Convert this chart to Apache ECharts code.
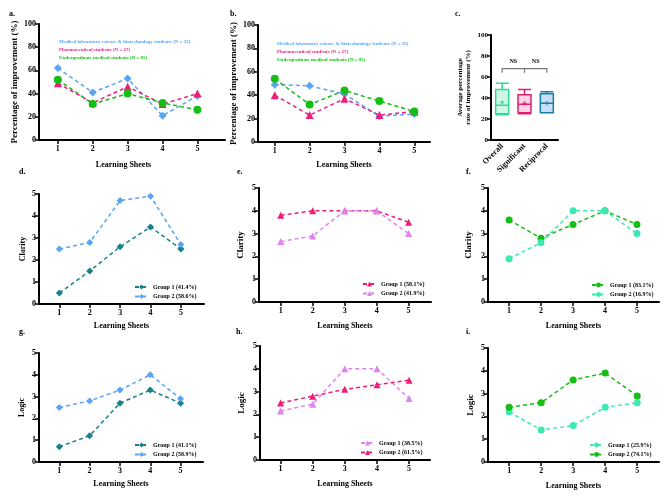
<!DOCTYPE html>
<html>
<head>
<meta charset="utf-8">
<script src="https://cdn.jsdelivr.net/npm/echarts@6/dist/echarts.min.js"></script>
<style>
html,body{margin:0;padding:0;background:#fff;}
#chart{width:669px;height:498px;}
</style>
</head>
<body>
<div id="chart"></div>
<script>
// ---------- DATA ----------
const sheets = [1, 2, 3, 4, 5];
const seriesNamesAB = [
  'Medical laboratory science & biotechnology students (N = 32)',
  'Pharmaceutical students (N = 27)',
  'Undergraduate medical students (N = 85)'
];
const aMedLab    = [62, 41, 53, 21, 38];
const aPharm     = [49, 32, 46, 31, 40];
const aUndergrad = [52, 31, 40, 32, 26];
const bMedLab    = [49, 48, 41, 22, 24];
const bPharm     = [40, 23, 37, 23, 26];
const bUndergrad = [54, 32, 44, 35, 26];

const cCategories = ['Overall', 'Significant', 'Reciprocal'];
// [min, Q1, median, Q3, max]
const cBox  = [[24, 25, 33, 48, 54], [25, 26, 34, 43, 48], [26, 26, 35, 44, 46]];
const cMean = [36, 35, 35];
const cBracketLevel = 68;
const cBracketDrop = 64;
const cBracketText = 'NS';

const dNames = ['Group 1 (41.4%)', 'Group 2 (58.6%)'];
const dG1 = [0.5, 1.5, 2.6, 3.5, 2.5];
const dG2 = [2.5, 2.8, 4.7, 4.9, 2.7];
const eNames = ['Group 1 (58.1%)', 'Group 2 (41.9%)'];
const eG1 = [3.8, 4.0, 4.0, 4.0, 3.5];
const eG2 = [2.65, 2.9, 4.0, 4.0, 3.0];
const fNames = ['Group 1 (83.1%)', 'Group 2 (16.9%)'];
const fG1 = [3.6, 2.8, 3.4, 4.0, 3.4];
const fG2 = [1.9, 2.6, 4.0, 4.0, 3.0];
const gNames = ['Group 1 (41.1%)', 'Group 2 (58.9%)'];
const gG1 = [0.7, 1.2, 2.7, 3.3, 2.7];
const gG2 = [2.5, 2.8, 3.3, 4.0, 2.9];
const hNames = ['Group 1 (38.5%)', 'Group 2 (61.5%)'];
const hG1 = [2.15, 2.45, 4.0, 4.0, 2.7];
const hG2 = [2.5, 2.8, 3.1, 3.3, 3.5];
const iNames = ['Group 1 (25.9%)', 'Group 2 (74.1%)'];
const iG1 = [2.2, 1.4, 1.6, 2.4, 2.6];
const iG2 = [2.4, 2.6, 3.6, 3.9, 2.9];

// ---------- STYLE ----------
const FONT = '"Liberation Serif", "Times New Roman", serif';
const C = {
  lblue: '#58A5F6', pink: '#EC1E78', green: '#14BE14', teal: '#16808C',
  violet: '#DE84F2', aqua: '#3EE8B4'
};
const boxStyle = [
  { color: '#CFF7E6', borderColor: '#2FD899' },
  { color: '#FAD6E4', borderColor: '#E0206E' },
  { color: '#C9DEF4', borderColor: '#1A7FA8' }
];

const grids = [
  { left: 39,  top: 24,  width: 186, height: 116 }, // a
  { left: 258, top: 25,  width: 172, height: 117 }, // b
  { left: 491, top: 35,  width: 67,  height: 105 }, // c
  { left: 39,  top: 194, width: 165, height: 110 }, // d
  { left: 259, top: 188, width: 172, height: 114 }, // e
  { left: 488, top: 188, width: 171, height: 114 }, // f
  { left: 39,  top: 353, width: 164, height: 109 }, // g
  { left: 260, top: 346, width: 170, height: 114 }, // h
  { left: 488, top: 348, width: 171, height: 114 }  // i
];
const xRange = [
  [0.46, 5.79], [0.52, 5.45], null, [0.33, 5.76], [0.32, 5.7], [0.34, 5.69],
  [0.33, 5.74], [0.36, 5.65], [0.34, 5.68]
];
const xNameGap = [21, 19, 0, 18, 20, 20, 18, 20, 20];
const yNames = ['Percentage of improvement (%)', 'Percentage of improvement (%)',
  'Average percentage\nrate of improvement (%)',
  'Clarity', 'Clarity', 'Clarity', 'Logic', 'Logic', 'Logic'];
const yNameGap = [19, 19, 19, 12, 13, 14, 13, 13, 12.5];
const yNameSize = [9, 9, 7, 8, 9, 9, 8, 9, 9];

const axisLineStyle = { color: '#000', width: 2 };
const tickStyle = { color: '#000', width: 1.5 };

const xAxes = grids.map((g, k) => {
  if (k === 2) {
    return {
      gridIndex: k, type: 'category', data: cCategories, boundaryGap: true,
      axisLine: { lineStyle: axisLineStyle },
      axisTick: { alignWithLabel: true, length: 4, lineStyle: tickStyle },
      axisLabel: { rotate: 45, color: '#000', fontFamily: FONT, fontWeight: 'bold', fontSize: 8, margin: 5 }
    };
  }
  return {
    gridIndex: k, type: 'value', min: xRange[k][0], max: xRange[k][1],
    name: 'Learning Sheets', nameLocation: 'middle', nameGap: xNameGap[k],
    nameTextStyle: { color: '#000', fontFamily: FONT, fontWeight: 'bold', fontSize: 8,
      padding: k === 0 ? [0, 17, 0, 0] : 0 },
    splitLine: { show: false },
    axisLine: { lineStyle: axisLineStyle },
    axisTick: { length: 4, lineStyle: tickStyle, customValues: sheets },
    axisLabel: { color: '#000', fontFamily: FONT, fontWeight: 'bold', fontSize: 8, margin: 5, customValues: sheets }
  };
});

const yAxes = grids.map((g, k) => {
  const pct = k < 3;
  return {
    gridIndex: k, type: 'value', min: 0, max: pct ? 100 : 5, interval: pct ? 20 : 1,
    name: yNames[k], nameLocation: 'middle', nameGap: yNameGap[k],
    nameTextStyle: { color: '#000', fontFamily: FONT, fontWeight: 'bold', fontSize: yNameSize[k], lineHeight: yNameSize[k] + 1 },
    splitLine: { show: false },
    axisLine: { show: true, lineStyle: axisLineStyle },
    axisTick: { show: true, length: 4, lineStyle: tickStyle },
    axisLabel: { color: '#000', fontFamily: FONT, fontWeight: 'bold', fontSize: k === 2 ? 7 : 8, margin: 3 }
  };
});

function lineSeries(k, name, values, color, symbol, size) {
  return {
    type: 'line', name: name, xAxisIndex: k, yAxisIndex: k,
    data: sheets.map((s, i) => [s, values[i]]),
    symbol: symbol, symbolSize: size,
    itemStyle: { color: color },
    lineStyle: { color: color, width: 1.5, type: [4, 3] },
    emphasis: { disabled: true }, animation: false
  };
}

const series = [
  lineSeries(0, seriesNamesAB[0], aMedLab, C.lblue, 'diamond', 8),
  lineSeries(0, seriesNamesAB[1], aPharm, C.pink, 'triangle', 8),
  lineSeries(0, seriesNamesAB[2], aUndergrad, C.green, 'circle', 8),
  lineSeries(1, seriesNamesAB[0], bMedLab, C.lblue, 'diamond', 8),
  lineSeries(1, seriesNamesAB[1], bPharm, C.pink, 'triangle', 8),
  lineSeries(1, seriesNamesAB[2], bUndergrad, C.green, 'circle', 8),
  {
    type: 'boxplot', xAxisIndex: 2, yAxisIndex: 2, boxWidth: [13, 13],
    data: cBox.map((v, i) => ({ value: v, itemStyle: { color: boxStyle[i].color, borderColor: boxStyle[i].borderColor, borderWidth: 1.5 } })),
    animation: false
  },
  {
    type: 'scatter', xAxisIndex: 2, yAxisIndex: 2,
    data: cMean.map((v, i) => ({
      value: [i, v],
      symbol: i === 0 ? 'circle' : 'path://M2,0H4V2H6V4H4V6H2V4H0V2H2Z',
      symbolSize: i === 0 ? 3.5 : 4,
      itemStyle: { color: boxStyle[i].borderColor }
    })),
    animation: false
  },
  {
    type: 'custom', xAxisIndex: 2, yAxisIndex: 2, silent: true, animation: false,
    data: [[0, cBracketLevel]],
    renderItem: function (params, api) {
      const p0 = api.coord([0, cBracketLevel]);
      const p1 = api.coord([1, cBracketLevel]);
      const p2 = api.coord([2, cBracketLevel]);
      const yd = api.coord([0, cBracketDrop])[1];
      const st = { stroke: '#777', lineWidth: 1.2, fill: null };
      const tStyle = { text: cBracketText, fill: '#000', font: 'bold 6px ' + FONT, align: 'center', verticalAlign: 'bottom' };
      return {
        type: 'group', children: [
          { type: 'polyline', shape: { points: [[p0[0], yd], p0, p2, [p2[0], yd]] }, style: st },
          { type: 'line', shape: { x1: p1[0], y1: p1[1], x2: p1[0], y2: yd }, style: st },
          { type: 'text', style: Object.assign({ x: (p0[0] + p1[0]) / 2, y: p0[1] - 4 }, tStyle) },
          { type: 'text', style: Object.assign({ x: (p1[0] + p2[0]) / 2, y: p0[1] - 4 }, tStyle) }
        ]
      };
    }
  },
  lineSeries(3, dNames[0], dG1, C.teal, 'diamond', 7),
  lineSeries(3, dNames[1], dG2, C.lblue, 'diamond', 7),
  lineSeries(4, eNames[0], eG1, C.pink, 'triangle', 7),
  lineSeries(4, eNames[1], eG2, C.violet, 'triangle', 7),
  lineSeries(5, fNames[0], fG1, C.green, 'circle', 7),
  lineSeries(5, fNames[1], fG2, C.aqua, 'circle', 7),
  lineSeries(6, gNames[0], gG1, C.teal, 'diamond', 7),
  lineSeries(6, gNames[1], gG2, C.lblue, 'diamond', 7),
  lineSeries(7, hNames[0], hG1, C.violet, 'triangle', 7),
  lineSeries(7, hNames[1], hG2, C.pink, 'triangle', 7),
  lineSeries(8, iNames[0], iG1, C.aqua, 'circle', 7),
  lineSeries(8, iNames[1], iG2, C.green, 'circle', 7)
];

const abColors = [C.lblue, C.pink, C.green];
function textLegend(left, top) {
  return {
    left: left, top: top, orient: 'vertical', icon: 'none', itemWidth: 0, itemHeight: 6, itemGap: 2.5,
    selectedMode: false,
    data: seriesNamesAB.map((n, i) => ({ name: n, textStyle: { color: abColors[i] } })),
    textStyle: { fontFamily: FONT, fontWeight: 'bold', fontSize: 5, padding: [0, 0, 0, -5] }
  };
}
function groupLegend(left, top, names) {
  return {
    left: left, top: top, orient: 'vertical', itemWidth: 13, itemHeight: 6, itemGap: 3.5,
    selectedMode: false, data: names,
    textStyle: { color: '#000', fontFamily: FONT, fontWeight: 'bold', fontSize: 6 }
  };
}

const titles = [
  ['a.', 9, 10], ['b.', 230, 10], ['c.', 455, 10],
  ['d.', 19, 168], ['e.', 237, 168], ['f.', 466, 168],
  ['g.', 19, 328], ['h.', 236, 328], ['i.', 466, 328]
].map(t => ({ text: t[0], left: t[1], top: t[2], padding: 0,
  textStyle: { fontFamily: FONT, fontWeight: 'bold', fontSize: 8, color: '#000' } }));

const option = {
  backgroundColor: '#fff',
  animation: false,
  title: titles,
  grid: grids,
  xAxis: xAxes,
  yAxis: yAxes,
  legend: [
    textLegend(54, 34),
    textLegend(272, 35.5),
    groupLegend(129, 279, dNames),
    groupLegend(357, 276, eNames),
    groupLegend(586, 277, fNames),
    groupLegend(129, 437, gNames),
    groupLegend(355, 435, hNames),
    groupLegend(584, 437, iNames)
  ],
  series: series
};

const chart = echarts.init(document.getElementById('chart'), null, { renderer: 'canvas' });
chart.setOption(option);
</script>
</body>
</html>
